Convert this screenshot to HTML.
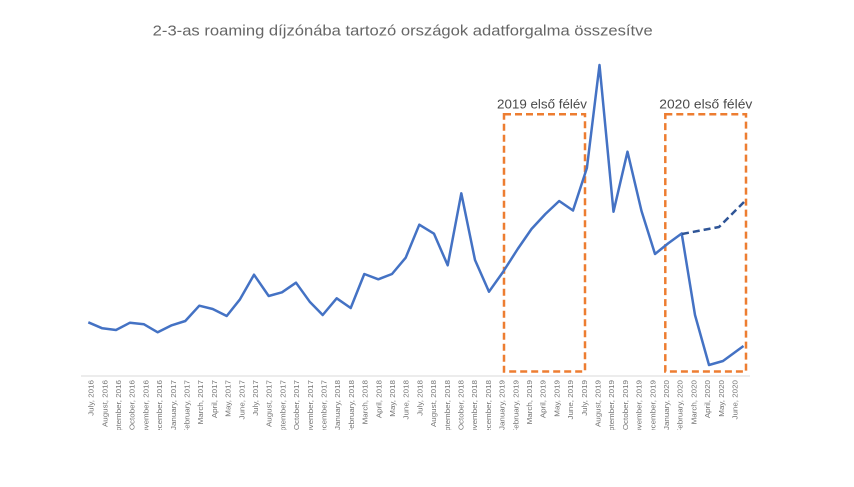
<!DOCTYPE html>
<html>
<head>
<meta charset="utf-8">
<style>
html,body{margin:0;padding:0;background:#fff;}
svg{display:block;}
</style>
</head>
<body>
<svg width="854" height="487" viewBox="0 0 854 487" xmlns="http://www.w3.org/2000/svg">
<defs>
<clipPath id="lc"><rect x="0" y="377" width="854" height="53"/></clipPath>
</defs>
<rect width="854" height="487" fill="#fff"/>
<text x="152.7" y="35.7" font-family="Liberation Sans, sans-serif" font-size="15" fill="#666666" textLength="500" lengthAdjust="spacingAndGlyphs">2-3-as roaming díjzónába tartozó országok adatforgalma összesítve</text>

<line x1="81" y1="376" x2="750" y2="376" stroke="#D9D9D9" stroke-width="1"/>

<g fill="none" stroke="#ED7D31" stroke-width="2.5" stroke-dasharray="7,4">
<rect x="504" y="114.3" width="81" height="257.2"/>
<rect x="665.3" y="114.3" width="80.7" height="257.2"/>
</g>
<text x="497" y="108.3" font-family="Liberation Sans, sans-serif" font-size="12.5" fill="#4a4a4a" textLength="90" lengthAdjust="spacingAndGlyphs">2019 első félév</text>
<text x="659.3" y="108.3" font-family="Liberation Sans, sans-serif" font-size="12.5" fill="#4a4a4a" textLength="93" lengthAdjust="spacingAndGlyphs">2020 első félév</text>

<polyline fill="none" stroke="#4472C4" stroke-width="2.5" stroke-linejoin="round" points="88.3,322.3 102.3,328.3 116,330 130,322.7 144,324.3 157.7,332.3 171.7,325.3 185.3,321 199.3,305.7 212.7,309 226.7,316 240,299.3 254,274.7 268.7,296 282,292.3 296,282.7 309.7,301.7 322.7,315 336.7,298.3 350.7,308 364.3,274 378.3,279.3 392,274 405.7,257.7 419.3,224.7 434,233.7 447.7,265.3 461.3,193.3 475,260 489,291.7 503,272 517.7,249 531.5,229 545.4,214 559.2,201 573,210.5 586.9,168 599.5,65 613.5,211.7 627.5,151.7 641.5,211 655,254 668,243.5 681.7,233.5 695,315 709,365 723,361 743.5,346"/>
<polyline fill="none" stroke="#2F5597" stroke-width="2.5" stroke-dasharray="7,4" stroke-linejoin="round" points="682,234 719,227 745,201"/>

<g clip-path="url(#lc)" font-family="Liberation Sans, sans-serif" font-size="8" fill="#767676" text-anchor="end">
<text transform="translate(93.6,380) rotate(-90) scale(1,0.92)">July, 2016</text>
<text transform="translate(107.3,380) rotate(-90) scale(1,0.92)">August, 2016</text>
<text transform="translate(121.0,380) rotate(-90) scale(1,0.92)">September, 2016</text>
<text transform="translate(134.7,380) rotate(-90) scale(1,0.92)">October, 2016</text>
<text transform="translate(148.4,380) rotate(-90) scale(1,0.92)">November, 2016</text>
<text transform="translate(162.1,380) rotate(-90) scale(1,0.92)">December, 2016</text>
<text transform="translate(175.8,380) rotate(-90) scale(1,0.92)">January, 2017</text>
<text transform="translate(189.5,380) rotate(-90) scale(1,0.92)">February, 2017</text>
<text transform="translate(203.2,380) rotate(-90) scale(1,0.92)">March, 2017</text>
<text transform="translate(216.9,380) rotate(-90) scale(1,0.92)">April, 2017</text>
<text transform="translate(230.6,380) rotate(-90) scale(1,0.92)">May, 2017</text>
<text transform="translate(244.3,380) rotate(-90) scale(1,0.92)">June, 2017</text>
<text transform="translate(258.0,380) rotate(-90) scale(1,0.92)">July, 2017</text>
<text transform="translate(271.7,380) rotate(-90) scale(1,0.92)">August, 2017</text>
<text transform="translate(285.4,380) rotate(-90) scale(1,0.92)">September, 2017</text>
<text transform="translate(299.1,380) rotate(-90) scale(1,0.92)">October, 2017</text>
<text transform="translate(312.8,380) rotate(-90) scale(1,0.92)">November, 2017</text>
<text transform="translate(326.5,380) rotate(-90) scale(1,0.92)">December, 2017</text>
<text transform="translate(340.2,380) rotate(-90) scale(1,0.92)">January, 2018</text>
<text transform="translate(353.9,380) rotate(-90) scale(1,0.92)">February, 2018</text>
<text transform="translate(367.6,380) rotate(-90) scale(1,0.92)">March, 2018</text>
<text transform="translate(381.3,380) rotate(-90) scale(1,0.92)">April, 2018</text>
<text transform="translate(395.0,380) rotate(-90) scale(1,0.92)">May, 2018</text>
<text transform="translate(408.7,380) rotate(-90) scale(1,0.92)">June, 2018</text>
<text transform="translate(422.4,380) rotate(-90) scale(1,0.92)">July, 2018</text>
<text transform="translate(436.1,380) rotate(-90) scale(1,0.92)">August, 2018</text>
<text transform="translate(449.8,380) rotate(-90) scale(1,0.92)">September, 2018</text>
<text transform="translate(463.5,380) rotate(-90) scale(1,0.92)">October, 2018</text>
<text transform="translate(477.2,380) rotate(-90) scale(1,0.92)">November, 2018</text>
<text transform="translate(490.9,380) rotate(-90) scale(1,0.92)">December, 2018</text>
<text transform="translate(504.6,380) rotate(-90) scale(1,0.92)">January, 2019</text>
<text transform="translate(518.3,380) rotate(-90) scale(1,0.92)">February, 2019</text>
<text transform="translate(532.0,380) rotate(-90) scale(1,0.92)">March, 2019</text>
<text transform="translate(545.7,380) rotate(-90) scale(1,0.92)">April, 2019</text>
<text transform="translate(559.4,380) rotate(-90) scale(1,0.92)">May, 2019</text>
<text transform="translate(573.1,380) rotate(-90) scale(1,0.92)">June, 2019</text>
<text transform="translate(586.8,380) rotate(-90) scale(1,0.92)">July, 2019</text>
<text transform="translate(600.5,380) rotate(-90) scale(1,0.92)">August, 2019</text>
<text transform="translate(614.2,380) rotate(-90) scale(1,0.92)">September, 2019</text>
<text transform="translate(627.9,380) rotate(-90) scale(1,0.92)">October, 2019</text>
<text transform="translate(641.6,380) rotate(-90) scale(1,0.92)">November, 2019</text>
<text transform="translate(655.3,380) rotate(-90) scale(1,0.92)">December, 2019</text>
<text transform="translate(669.0,380) rotate(-90) scale(1,0.92)">January, 2020</text>
<text transform="translate(682.7,380) rotate(-90) scale(1,0.92)">February, 2020</text>
<text transform="translate(696.4,380) rotate(-90) scale(1,0.92)">March, 2020</text>
<text transform="translate(710.1,380) rotate(-90) scale(1,0.92)">April, 2020</text>
<text transform="translate(723.8,380) rotate(-90) scale(1,0.92)">May, 2020</text>
<text transform="translate(737.5,380) rotate(-90) scale(1,0.92)">June, 2020</text>
</g>
</svg>
</body>
</html>
